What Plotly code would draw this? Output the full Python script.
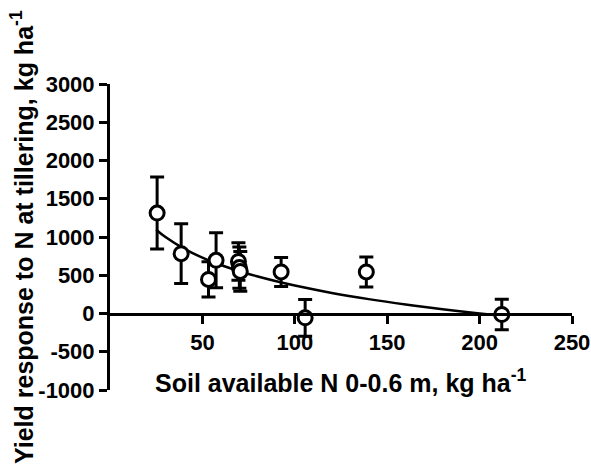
import plotly.graph_objects as go

# Observed data (soil available N, yield response, error)
x_obs = [25.5, 38.5, 53.3, 57.4, 69.5, 70.0, 70.5, 92.6, 105.6, 138.7, 212.0]
y_obs = [1313, 782, 445, 695, 680, 600, 550, 543, -56, 543, -13]
err_obs = [470, 390, 230, 360, 245, 270, 260, 190, 240, 195, 200]

# Fitted curve
x_fit = [25, 30, 40, 50, 60, 70, 80, 90, 100, 120, 140, 160, 180, 200, 212]
y_fit = [1095, 999, 848, 730, 634, 553, 483, 421, 365, 269, 188, 118, 56, 0, -30]

x_ticks = [50, 100, 150, 200, 250]
y_ticks = [-1000, -500, 0, 500, 1000, 1500, 2000, 2500, 3000]

x_title = "<b>Soil available N 0-0.6 m, kg ha<sup>-1</sup></b>"
y_title = "<b>Yield response to N at tillering, kg ha<sup>-1</sup></b>"

FONT = "Liberation Sans, Arial, sans-serif"

fig = go.Figure()
fig.add_trace(go.Scatter(
    x=x_fit, y=y_fit, mode="lines", line=dict(color="black", width=2.5, shape="spline"),
    showlegend=False, hoverinfo="skip"))
fig.add_trace(go.Scatter(
    x=x_obs, y=y_obs, mode="markers",
    marker=dict(symbol="circle", size=14, color="white", line=dict(color="black", width=3)),
    error_y=dict(type="data", array=err_obs, visible=True, color="black", thickness=3, width=7),
    showlegend=False))

fig.update_layout(
    width=591, height=464,
    margin=dict(l=110, r=19, t=84, b=74),
    paper_bgcolor="white", plot_bgcolor="white",
    font=dict(family=FONT, color="black", size=18),
    xaxis=dict(
        range=[0, 250], tickvals=x_ticks, ticktext=[str(v) for v in x_ticks],
        showgrid=False, zeroline=False, showline=True, linecolor="black", linewidth=3,
        ticks="outside", ticklen=8, tickwidth=3, tickcolor="black",
        tickfont=dict(family=FONT, size=22, color="black", weight="bold"),
        anchor="free", position=0.25, automargin=False,
    ),
    yaxis=dict(
        range=[-1000, 3000], tickvals=y_ticks, ticktext=[str(v) for v in y_ticks],
        showgrid=False, zeroline=False, showline=True, linecolor="black", linewidth=3,
        ticks="outside", ticklen=8, tickwidth=3, tickcolor="black",
        tickfont=dict(family=FONT, size=22, color="black", weight="bold"),
        automargin=False,
    ),
    annotations=[
        dict(text=x_title, xref="paper", yref="paper", x=0.5, y=0.03,
             xanchor="center", yanchor="middle", showarrow=False,
             font=dict(family=FONT, size=25, color="black")),
        dict(text=y_title, xref="paper", yref="paper", x=0, y=0.5, xshift=-88,
             xanchor="center", yanchor="middle", textangle=-90, showarrow=False,
             font=dict(family=FONT, size=25, color="black")),
    ],
)

fig.write_html(
    "out.html",
    config={"displayModeBar": False},
    post_script="document.body.style.margin='0';document.body.style.overflow='hidden';",
)
